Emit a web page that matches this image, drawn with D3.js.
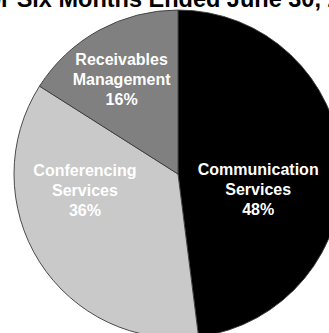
<!DOCTYPE html>
<html>
<head>
<meta charset="utf-8">
<script src="https://cdn.jsdelivr.net/npm/d3@7"></script>
<style>
  body { margin: 0; background: #fff; }
  svg { display: block; }
</style>
</head>
<body>
<div id="chart"></div>
<script>
var width = 329;
var height = 333;

// data
var segments = ["Communication Services", "Conferencing Services", "Receivables Management"];
var shares = [48, 36, 16];
var title = "For Six Months Ended June 30, 2004";

var palette = ["#000000", "#c9c9c9", "#808080"];

var cx = 178, cy = 174, radius = 164;

// small hand nudges for the labels, from the arc centroid
var labelNudge = {
    "Communication Services": [-18, 21],
    "Conferencing Services": [-10, -37],
    "Receivables Management": [-9, -9]
};

var color = d3.scaleOrdinal()
    .domain(segments)
    .range(palette);

var svg = d3.select("#chart").append("svg")
    .attr("width", width)
    .attr("height", height);

// title, cut off by the crop like in the picture
var titleText = svg.append("text")
    .text(title)
    .attr("y", 7)
    .style("font-family", "'Liberation Sans', Arial, sans-serif")
    .style("font-weight", "bold")
    .style("font-size", "23.5px")
    .style("fill", "#000");
var skip = titleText.node().getSubStringLength(0, 2);
titleText.attr("x", -skip + 1);

var pie = d3.pie()
    .sort(null)
    .value(d => d.value);

var arcs = pie(segments.map((s, i) => ({ name: s, value: shares[i] })));

var arc = d3.arc()
    .innerRadius(0)
    .outerRadius(radius);

var labelArc = d3.arc()
    .innerRadius(radius * 0.6)
    .outerRadius(radius * 0.6);

var canvas = svg.append("g")
    .attr("transform", "translate(" + cx + "," + cy + ")");

canvas.selectAll(".slice")
    .data(arcs)
    .enter()
    .append("path")
        .attr("class", "slice")
        .attr("d", arc)
        .attr("fill", d => color(d.data.name))
        .attr("stroke", "#3a3a3a")
        .attr("stroke-width", 0.9);

var labels = canvas.selectAll(".label")
    .data(arcs)
    .enter()
    .append("text")
        .attr("class", "label")
        .attr("transform", function (d) {
            var c = labelArc.centroid(d);
            var n = labelNudge[d.data.name];
            return "translate(" + (c[0] + n[0]) + "," + (c[1] + n[1]) + ")";
        })
        .attr("text-anchor", "middle")
        .style("font-family", "'Liberation Sans', Arial, sans-serif")
        .style("font-weight", "bold")
        .style("font-size", "16px")
        .style("fill", "#fff");

labels.each(function (d) {
    var lines = d.data.name.split(" ").concat([d.data.value + "%"]);
    d3.select(this).selectAll("tspan")
        .data(lines)
        .enter()
        .append("tspan")
            .attr("x", 0)
            .attr("y", (l, i) => (i - 1) * 20 + 6)
            .text(l => l);
});
</script>
</body>
</html>
